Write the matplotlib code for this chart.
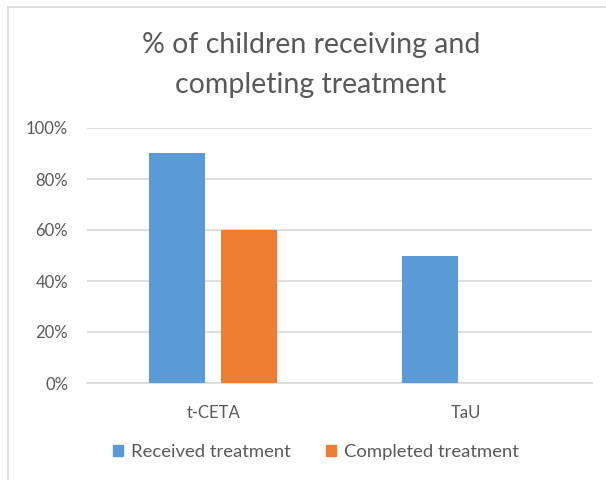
import matplotlib
matplotlib.use("Agg")
import matplotlib.pyplot as plt
from matplotlib.patches import Rectangle, Patch
from matplotlib.ticker import FuncFormatter

categories = ["t-CETA", "TaU"]
received = [90, 50]
completed = [60, 0]
series_names = ["Received treatment", "Completed treatment"]
yticks = [0, 20, 40, 60, 80, 100]

blue = "#5B9BD5"
orange = "#ED7D31"
grid_col = "#D9D9D9"
text_col = "#595959"

plt.rcParams["font.family"] = ["Lato", "DejaVu Sans"]

fig = plt.figure(figsize=(6.06, 4.8), dpi=100)
W, H = 606, 480

# chart frame
fig.patches.append(Rectangle((8 / W, -0.1), 1.2, 1 - 7 / H + 0.1,
                             transform=fig.transFigure, fill=False,
                             edgecolor="#D9D9D9", linewidth=1.2))

ax = fig.add_axes([87 / W, 1 - 383 / H, (592 - 87) / W, (383 - 128) / H])

x = range(len(categories))
bw = 0.222
off = 0.143
ax.bar([i - off for i in x], received, width=bw, color=blue, zorder=3)
ax.bar([i + off for i in x], completed, width=bw, color=orange, zorder=3)

ax.set_xlim(-0.5, 1.5)
ax.set_ylim(0, 100)
ax.set_yticks(yticks)
ax.yaxis.set_major_formatter(FuncFormatter(lambda v, p: f"{v:.0f}%"))
ax.set_xticks(list(x))
ax.set_xticklabels(categories)
ax.grid(axis="y", color=grid_col, linewidth=1.2, zorder=0)
for s in ["top", "right", "left"]:
    ax.spines[s].set_visible(False)
ax.spines["bottom"].set_color(grid_col)
ax.spines["bottom"].set_linewidth(1.2)
ax.tick_params(length=0, labelsize=12, colors=text_col)
ax.tick_params(axis="y", pad=13.5)
ax.tick_params(axis="x", pad=15.5)

fig.text(311 / W, 1 - 65 / H, "% of children receiving and\ncompleting treatment",
         ha="center", va="center", fontsize=20.5, color=text_col,
         linespacing=1.62)

handles = [Patch(color=blue), Patch(color=orange)]
fig.legend(handles, series_names, loc="center", bbox_to_anchor=(316 / W, 1 - 452 / H),
           ncol=2, frameon=False, fontsize=13.3, labelcolor=text_col,
           handlelength=0.55, handleheight=0.55, handletextpad=0.45,
           columnspacing=1.9)

fig.savefig("out.png", dpi=100, facecolor="white")
